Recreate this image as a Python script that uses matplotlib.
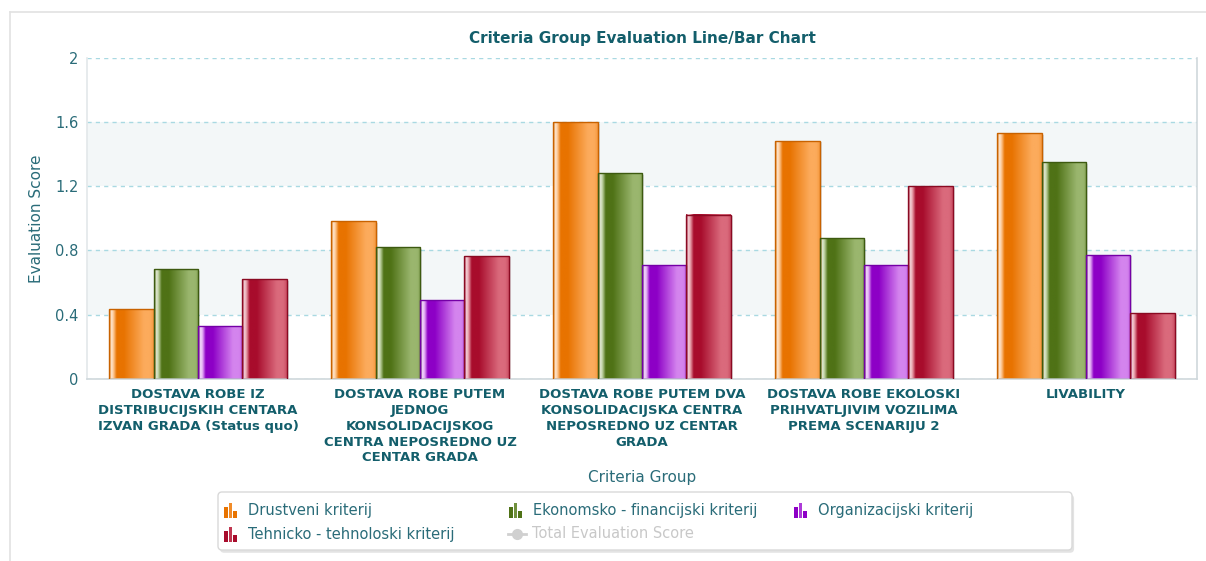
import numpy as np
import matplotlib
matplotlib.use("Agg")
import matplotlib.pyplot as plt
from matplotlib.colors import to_rgb
from matplotlib.patches import Rectangle, FancyBboxPatch
from matplotlib.transforms import ScaledTranslation
import matplotlib.patheffects as pe

# ---- data -------------------------------------------------------------
groups = [
    "DOSTAVA ROBE IZ\nDISTRIBUCIJSKIH CENTARA\nIZVAN GRADA (Status quo)",
    "DOSTAVA ROBE PUTEM\nJEDNOG\nKONSOLIDACIJSKOG\nCENTRA NEPOSREDNO UZ\nCENTAR GRADA",
    "DOSTAVA ROBE PUTEM DVA\nKONSOLIDACIJSKA CENTRA\nNEPOSREDNO UZ CENTAR\nGRADA",
    "DOSTAVA ROBE EKOLOSKI\nPRIHVATLJIVIM VOZILIMA\nPREMA SCENARIJU 2",
    "LIVABILITY",
]
series_names = [
    "Drustveni kriterij",
    "Ekonomsko - financijski kriterij",
    "Organizacijski kriterij",
    "Tehnicko - tehnoloski kriterij",
]
hidden_series = "Total Evaluation Score"

drustveni = [0.435, 0.983, 1.600, 1.484, 1.531]
ekonomski = [0.683, 0.821, 1.282, 0.877, 1.350]
organizacijski = [0.330, 0.492, 0.710, 0.710, 0.773]
tehnicki = [0.621, 0.767, 1.023, 1.200, 0.410]

y_ticks = [0, 0.4, 0.8, 1.2, 1.6, 2]
y_tick_labels = ["0", "0.4", "0.8", "1.2", "1.6", "2"]

# ---- styling ----------------------------------------------------------
palette = [
    # (dark, light, edge)
    ("#e87300", "#fcab5c", "#c86200"),
    ("#4f7216", "#9ab66e", "#3d5a10"),
    ("#8d00c6", "#d484ee", "#7400a6"),
    ("#a80c2c", "#da6a7c", "#8a0a22"),
]
TITLE_C = "#135e6b"
TEXT_C = "#2a6c79"
GRID_C = "#a9d9e2"
BAND_C = "#f3f7f8"

W, H = 1206, 561
fig = plt.figure(figsize=(W / 100, H / 100), dpi=100)
fig.patch.set_facecolor("white")

ax_l, ax_r, ax_t, ax_b = 87, 1197, 58, 378.7
ax = fig.add_axes([ax_l / W, 1 - ax_b / H, (ax_r - ax_l) / W, (ax_b - ax_t) / H])
ax.set_facecolor("white")

# alternating horizontal bands and dashed grid
for lo, hi in [(0.4, 0.8), (1.2, 1.6)]:
    ax.axhspan(lo, hi, color=BAND_C, zorder=0, lw=0)
for yv in y_ticks:
    ax.axhline(yv, color=GRID_C, lw=1, ls=(0, (3, 3)), zorder=0.5)


def blend(c1, c2, f):
    a, b = np.array(to_rgb(c1)), np.array(to_rgb(c2))
    return a * (1 - f) + b * f


def cylinder_fill(ax, rect, dark, light, edge):
    x, w, h = rect.get_x(), rect.get_width(), rect.get_height()
    stops = [
        (0.00, blend(dark, edge, 0.3)),
        (0.05, blend(light, "white", 0.75)),
        (0.10, blend(light, "white", 0.3)),
        (0.17, to_rgb(dark)),
        (0.33, to_rgb(dark)),
        (0.78, to_rgb(light)),
        (0.92, to_rgb(light)),
        (1.00, blend(light, dark, 0.3)),
    ]
    t = np.linspace(0, 1, 128)
    pos = [s[0] for s in stops]
    cols = np.array([s[1] for s in stops])
    img = np.stack([np.interp(t, pos, cols[:, k]) for k in range(3)], axis=-1)
    ax.imshow(img[np.newaxis, :, :], extent=[x, x + w, 0, h], aspect="auto",
              interpolation="bilinear", zorder=2)


shadow_tr = ax.transData + ScaledTranslation(1.5 / 72, -1.2 / 72, fig.dpi_scale_trans)
values = [drustveni, ekonomski, organizacijski, tehnicki]
x = np.arange(len(groups))
bw = 0.2
for i, (vals, (dark, light, edge)) in enumerate(zip(values, palette)):
    offs = (i - 1.5) * bw
    bars = ax.bar(x + offs, vals, width=bw, facecolor="none", edgecolor=edge,
                  linewidth=1.0, zorder=3)
    for rect in bars:
        ax.add_patch(Rectangle((rect.get_x(), 0), rect.get_width(), rect.get_height(),
                               transform=shadow_tr, facecolor="#000000", alpha=0.12,
                               lw=0, zorder=1.5))
        cylinder_fill(ax, rect, dark, light, edge)

ax.set_xlim(-0.5, len(groups) - 0.5)
ax.set_ylim(0, 2)
ax.set_yticks(y_ticks)
ax.set_yticklabels(y_tick_labels)
ax.set_xticks(x)
ax.set_xticklabels(groups, fontsize=9.5, fontweight="bold", color=TITLE_C,
                   linespacing=1.27, va="top")
ax.tick_params(axis="both", length=0)
ax.tick_params(axis="y", labelsize=10.5, labelcolor=TEXT_C, pad=6)
ax.tick_params(axis="x", pad=7)

ax.spines["top"].set_visible(False)
ax.spines["left"].set_color("#e3e8ea")
ax.spines["right"].set_color("#cfd8dc")
ax.spines["bottom"].set_color("#cfd8dc")
for s in ["left", "right", "bottom"]:
    ax.spines[s].set_linewidth(1.2)

ax.set_ylabel("Evaluation Score", fontsize=11, color=TEXT_C, labelpad=8)
ax.set_xlabel("Criteria Group", fontsize=11, color=TEXT_C, labelpad=4)
ax.set_title("Criteria Group Evaluation Line/Bar Chart", fontsize=11,
             fontweight="bold", color=TITLE_C, pad=11)

# ---- overlay in pixel coordinates: outer frame + legend ----------------
ov = fig.add_axes([0, 0, 1, 1], facecolor="none")
ov.set_xlim(0, W)
ov.set_ylim(H, 0)
ov.axis("off")

ov.plot([9.5, 9.5], [11.5, H], color="#e2e2e2", lw=1.2)
ov.plot([9.5, W], [11.5, 11.5], color="#e2e2e2", lw=1.2)

box = FancyBboxPatch((218, 492), 854, 58, boxstyle="round,pad=0,rounding_size=4",
                     facecolor="white", edgecolor="#d9d9d9", lw=1.0)
box.set_path_effects([pe.SimplePatchShadow(offset=(1.5, -2), alpha=0.2,
                                           shadow_rgbFace="#777777"), pe.Normal()])
ov.add_patch(box)

legend_pos = [(224, 510), (509, 510), (794, 510), (224, 534)]
for name, (dark, light, edge), (lx, ly) in zip(series_names, palette, legend_pos):
    # small three-column bar glyph
    for j, frac in enumerate([0.72, 1.0, 0.45]):
        hgt = 15 * frac
        col = blend(dark, light, 0.45) if j == 1 else to_rgb(dark)
        ov.add_patch(Rectangle((lx + j * 4.6, ly + 7.5 - hgt), 3.8, hgt,
                               facecolor=col, edgecolor="none"))
    ov.text(lx + 24, ly, name, fontsize=10.5, color=TEXT_C, va="center", ha="left")

# hidden series entry
ov.plot([508, 526], [534, 534], color="#d0d0d0", lw=2)
ov.plot([517], [534], marker="o", ms=7, color="#d0d0d0")
ov.text(532, 534, hidden_series, fontsize=10.5, color="#c8c8c8", va="center", ha="left")

fig.savefig("out.png", dpi=100)
